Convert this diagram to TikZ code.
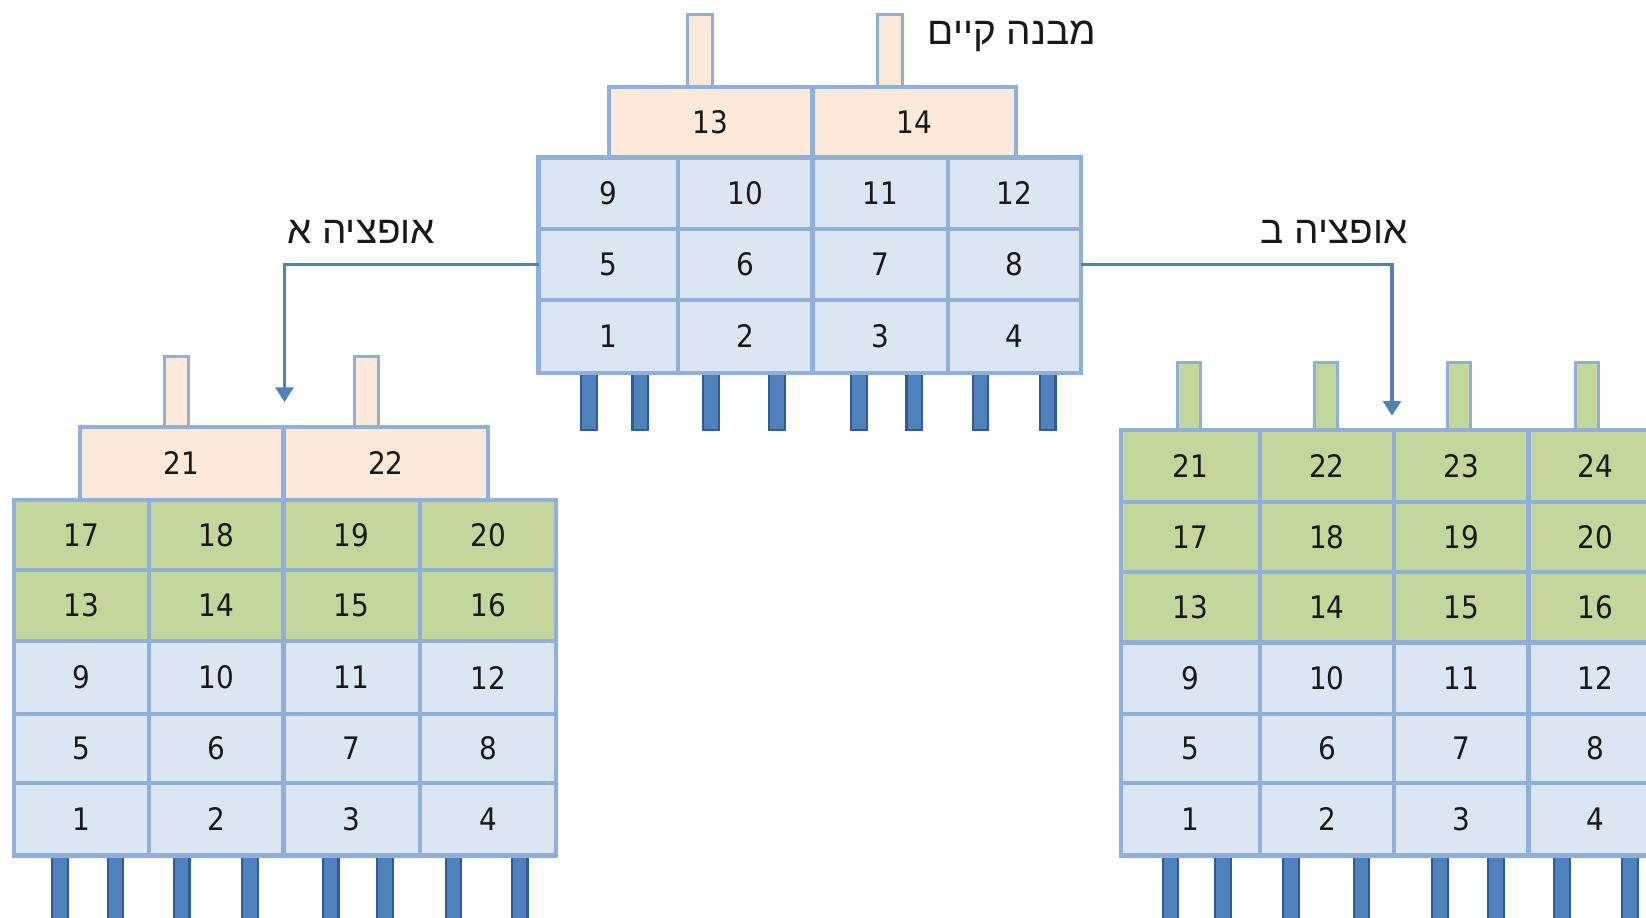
\documentclass[tikz,border=0pt]{standalone}
\usepackage{fontspec}
\setmainfont{DejaVu Sans Condensed}
\newfontfamily\hebfont[Script=Hebrew]{Liberation Sans}
\TeXXeTstate=1
\usetikzlibrary{arrows.meta}
\definecolor{peach}{HTML}{FDE9D9}
\definecolor{lblue}{HTML}{DCE6F2}
\definecolor{lgreen}{HTML}{C3D69B}
\definecolor{edgec}{HTML}{8FB0DA}
\definecolor{pinc}{HTML}{4F81BD}
\definecolor{pinedge}{HTML}{2F5C91}
\definecolor{arrc}{HTML}{4F81BD}
\tikzset{
  cellbox/.style={draw=edgec, line width=0.4mm, inner sep=0pt, outer sep=0pt,
    font=\fontsize{8.4}{9}\selectfont, text=black!90},
  darkpin/.style={draw=pinedge, fill=pinc, line width=0.2mm},
  lightpin/.style={draw=edgec, line width=0.3mm},
  arr/.style={draw=arrc, line width=0.3mm, -{Triangle[width=1.7mm,length=1.4mm]}},
  heb/.style={font=\hebfont\fontsize{10.5}{12}\selectfont, text=black!90, inner sep=0pt}
}
\newcommand{\gcell}[7]{%
  \node[cellbox, fill=#6, minimum width={(#4-#2)*0.1mm}, minimum height={(#5-#3)*0.1mm}]
    (#1) at ({(#2+#4)/2},{(#3+#5)/2}) {#7};}
\newcommand{\pinbox}[5]{%
  \draw[#5] ({#1-#4/2},#2) rectangle ({#1+#4/2},#3);}
\begin{document}
\begin{tikzpicture}[x=0.1mm,y=-0.1mm]
\useasboundingbox (0,0) rectangle (1568,874);
\clip (0,0) rectangle (1568,874);

% ---------- top (existing) structure ----------
\pinbox{667}{14}{83}{24}{lightpin, fill=peach}
\pinbox{848}{14}{83}{24}{lightpin, fill=peach}
\foreach \p in {561,610,677,740,818,871,934,998}{\pinbox{\p}{355}{410}{15}{darkpin}}
\gcell{to13}{580}{83}{774}{150}{peach}{13}
\gcell{to14}{774}{83}{968}{150}{peach}{14}
\foreach \ya/\yb/\base in {286/355/0, 218/286/4, 150/218/8}{
  \foreach \c/\xa/\xb in {1/513/646, 2/646/774, 3/774/903, 4/903/1030}{
    \pgfmathtruncatemacro\n{\base+\c}
    \gcell{t\n}{\xa}{\ya}{\xb}{\yb}{lblue}{\n}
  }
}

% ---------- option A (left) ----------
\pinbox{168}{340}{407}{23}{lightpin, fill=peach}
\pinbox{349}{340}{407}{23}{lightpin, fill=peach}
\foreach \p in {57,110,173,238,315,367,432,495}{\pinbox{\p}{815}{890}{15}{darkpin}}
\gcell{ao21}{76}{407}{270}{476}{peach}{21}
\gcell{ao22}{270}{407}{465}{476}{peach}{22}
\foreach \ya/\yb/\base/\f in {746/815/0/lblue, 680/746/4/lblue, 611/680/8/lblue, 543/611/12/lgreen, 476/543/16/lgreen}{
  \foreach \c/\xa/\xb in {1/13/142, 2/142/270, 3/270/400, 4/400/530}{
    \pgfmathtruncatemacro\n{\base+\c}
    \gcell{a\n}{\xa}{\ya}{\xb}{\yb}{\f}{\n}
  }
}

% ---------- option B (right) ----------
\foreach \p in {1133,1263,1390,1512}{\pinbox{\p}{345}{410}{22}{lightpin, fill=lgreen}}
\foreach \p in {1115,1165,1230,1297,1372,1425,1488,1553}{\pinbox{\p}{815}{890}{15}{darkpin}}
\foreach \ya/\yb/\base/\f in {746/815/0/lblue, 680/746/4/lblue, 612/680/8/lblue, 545/612/12/lgreen, 478/545/16/lgreen, 410/478/20/lgreen}{
  \foreach \c/\xa/\xb in {1/1068/1200, 2/1200/1328, 3/1328/1456, 4/1456/1584}{
    \pgfmathtruncatemacro\n{\base+\c}
    \gcell{b\n}{\xa}{\ya}{\xb}{\yb}{\f}{\n}
  }
}

% ---------- labels ----------
\node[heb] (ltitle) at (964,35) {\beginR מבנה קיים\endR};
\node[heb] (lopta) at (344,221) {\beginR אופציה א\endR};
\node[heb] (loptb) at (1271,221) {\beginR אופציה ב\endR};

% ---------- connectors ----------
\coordinate (enda) at (271,383);
\coordinate (endb) at (1326,396);
\draw[arr] (t5.west) -| (enda);
\draw[arr] (t8.east) -| (endb);
\end{tikzpicture}
\end{document}
